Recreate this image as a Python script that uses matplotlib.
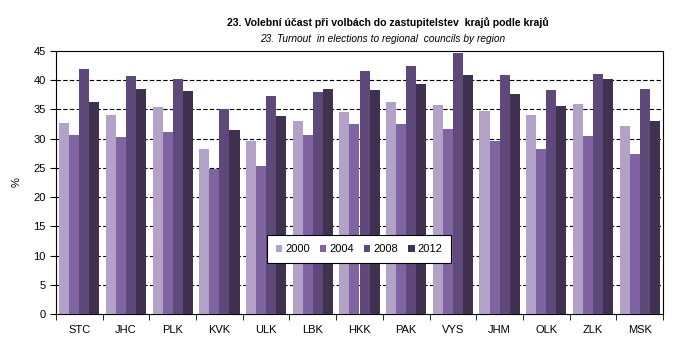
import numpy as np
import matplotlib.pyplot as plt

plt.rcParams['font.family'] = ['Liberation Sans', 'DejaVu Sans']

regions = ['STC', 'JHC', 'PLK', 'KVK', 'ULK', 'LBK', 'HKK', 'PAK', 'VYS', 'JHM', 'OLK', 'ZLK', 'MSK']
years = ['2000', '2004', '2008', '2012']

t2000 = [32.7, 34.1, 35.4, 28.2, 29.6, 33.0, 34.6, 36.3, 35.8, 34.7, 34.1, 35.9, 32.2]
t2004 = [30.6, 30.3, 31.1, 24.8, 25.3, 30.6, 32.5, 32.5, 31.7, 29.6, 28.2, 30.5, 27.4]
t2008 = [41.9, 40.7, 40.2, 35.0, 37.3, 38.0, 41.6, 42.4, 44.7, 40.9, 38.3, 41.1, 38.5]
t2012 = [36.3, 38.5, 38.2, 31.5, 33.9, 38.5, 38.3, 39.4, 40.9, 37.6, 35.6, 40.2, 33.0]

colors = ['#B3A2C7', '#8064A2', '#5F497A', '#403151']

fig = plt.figure(figsize=(6.82, 3.47), dpi=100)
ax = fig.add_axes([56/682, 33/347, 607/682, 263/347])

x = np.arange(len(regions))
w = 0.215
for i, (vals, yr) in enumerate(zip([t2000, t2004, t2008, t2012], years)):
    ax.bar(x + (i - 1.5) * w, vals, width=w, color=colors[i], label=yr, zorder=3)

ax.set_xlim(-0.5, len(regions) - 0.5)
ax.set_ylim(0, 45)
ax.set_yticks(np.arange(0, 46, 5))
ax.tick_params(axis='y', labelsize=8, length=4, direction='out')
for yv in range(5, 45, 5):
    ax.axhline(yv, color='black', linestyle=(0, (4, 2)), linewidth=0.8, zorder=1)

ax.set_xticks(x)
ax.set_xticklabels(regions, fontsize=8)
ax.set_xticks(np.arange(-0.5, len(regions), 1), minor=True)
ax.tick_params(axis='x', which='major', length=0, pad=8)
ax.tick_params(axis='x', which='minor', length=4, direction='out')
for s in ax.spines.values():
    s.set_linewidth(0.8)

ax.set_ylabel('%', fontsize=8, labelpad=8)

fig.text(388/682, 324/347, '23. Volební účast při volbách do zastupitelstev  krajů podle krajů',
         ha='center', va='center', fontsize=7.6, fontweight='bold')
fig.text(383/682, 308/347, '23. Turnout  in elections to regional  councils by region',
         ha='center', va='center', fontsize=7.3, style='italic')

leg = ax.legend(loc='center', bbox_to_anchor=(359/682, 98/347), bbox_transform=fig.transFigure,
                ncol=4, fontsize=8, frameon=True, fancybox=False, framealpha=1,
                handlelength=0.6, handleheight=0.6, handletextpad=0.25,
                columnspacing=0.9, borderpad=0.8, borderaxespad=0)
leg.get_frame().set_edgecolor('black')
leg.get_frame().set_linewidth(0.8)
leg.set_zorder(5)

fig.savefig('out.png', dpi=100)
